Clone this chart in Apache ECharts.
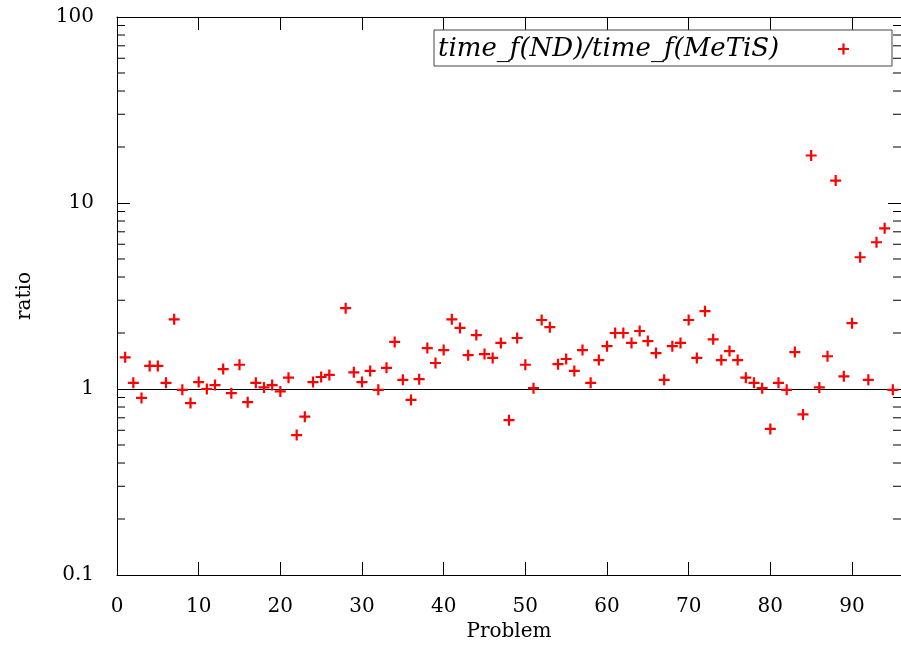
<!DOCTYPE html>
<html>
<head>
<meta charset="utf-8">
<script src="https://cdn.jsdelivr.net/npm/echarts@6/dist/echarts.min.js"></script>
<style>
html,body{margin:0;padding:0;background:#fff;}
#chart{width:901px;height:650px;}
</style>
</head>
<body>
<div id="chart"></div>
<script>
// Data
var problems = [1,2,3,4,5,6,7,8,9,10,11,12,13,14,15,16,17,18,19,20,21,22,23,24,25,26,
  28,29,30,31,32,33,34,35,36,37,38,39,40,41,42,43,44,45,46,47,48,49,50,
  51,52,53,54,55,56,57,58,59,60,61,62,63,64,65,66,67,68,69,70,
  71,72,73,74,75,76,77,78,79,80,81,82,83,84,85,86,87,88,89,90,91,92,93,94,95];
var ratios = [1.48,1.08,0.895,1.33,1.33,1.08,2.37,0.99,0.84,1.09,1.0,1.05,1.28,0.95,1.35,0.85,1.08,1.02,1.05,0.97,1.15,0.565,0.71,1.09,1.16,1.19,
  2.72,1.23,1.09,1.25,0.99,1.30,1.79,1.12,0.873,1.13,1.66,1.38,1.62,2.37,2.13,1.52,1.95,1.54,1.47,1.77,0.68,1.88,1.35,
  1.01,2.35,2.15,1.36,1.45,1.25,1.62,1.08,1.43,1.70,2.0,2.0,1.77,2.05,1.81,1.56,1.12,1.70,1.77,2.35,
  1.47,2.62,1.85,1.43,1.60,1.43,1.15,1.08,1.01,0.61,1.08,0.99,1.58,0.73,18.0,1.02,1.50,13.2,1.17,2.26,5.11,1.12,6.15,7.31,0.99];
var seriesName = 'time_f(ND)/time_f(MeTiS)';
var xTickLabels = [0,10,20,30,40,50,60,70,80,90];
var yTickLabels = [0.1,1,10,100];
var minorTickValues = [0.2,0.3,0.4,0.5,0.6,0.7,0.8,0.9,2,3,4,5,6,7,8,9,20,30,40,50,60,70,80,90];
var referenceLine = 1;

var xMin = 0, xMax = 96, yMin = 0.1, yMax = 100;
var plusPath = 'path://M4,0H6V4H10V6H6V10H4V6H0V4H4Z';
var FONT = 'DejaVu Serif';

var chart = echarts.init(document.getElementById('chart'), null, {renderer: 'canvas'});
var pts = problems.map(function (p, i) { return [p, ratios[i]]; });

var option = {
  animation: false,
  backgroundColor: '#fff',
  grid: {left: 117, top: 17, width: 789, height: 558, containLabel: false},
  legend: {
    show: true,
    left: 434, top: 30,
    align: 'right',
    padding: [6, 43, 4, 4],
    borderColor: '#444', borderWidth: 1,
    itemWidth: 11, itemHeight: 11,
    formatter: function (name) { return '{t|' + name + '}'; },
    textStyle: {
      color: '#000',
      rich: {t: {fontFamily: FONT, fontStyle: 'italic', fontSize: 26, color: '#000', width: 395, height: 26, align: 'left'}}
    },
    data: [{name: seriesName, icon: plusPath, itemStyle: {color: '#ff0000', opacity: 1}}]
  },
  xAxis: [{
    type: 'value', min: xMin, max: xMax, interval: 10, position: 'bottom',
    name: 'Problem', nameLocation: 'middle', nameGap: 44,
    nameTextStyle: {fontFamily: FONT, fontSize: 20, color: '#000'},
    axisLine: {show: true, onZero: false, lineStyle: {color: '#000', width: 1}},
    axisTick: {show: true, inside: true, length: 13, lineStyle: {color: '#000'}},
    axisLabel: {show: true, margin: 22, fontFamily: FONT, fontSize: 20, color: '#000', showMaxLabel: false,
      formatter: function (v) { return xTickLabels.indexOf(v) >= 0 ? String(v) : ''; }},
    splitLine: {show: false}
  }, {
    type: 'value', min: xMin, max: xMax, interval: 10, position: 'top',
    axisLine: {show: true, onZero: false, lineStyle: {color: '#000', width: 1}},
    axisTick: {show: true, inside: true, length: 13, lineStyle: {color: '#000'}},
    axisLabel: {show: false},
    splitLine: {show: false}
  }],
  yAxis: [{
    type: 'log', logBase: 10, min: yMin, max: yMax, position: 'left',
    name: 'ratio', nameLocation: 'middle', nameGap: 82,
    nameTextStyle: {fontFamily: FONT, fontSize: 20, color: '#000'},
    axisLine: {show: true, onZero: false, lineStyle: {color: '#000', width: 1}},
    axisTick: {show: true, inside: true, length: 13, lineStyle: {color: '#000'}},
    axisLabel: {show: true, margin: 23, fontFamily: FONT, fontSize: 20, color: '#000',
      formatter: function (v) {
        for (var i = 0; i < yTickLabels.length; i++) {
          if (Math.abs(v - yTickLabels[i]) < 1e-9 * yTickLabels[i]) return String(yTickLabels[i]);
        }
        return '';
      }},
    splitLine: {show: false}
  }, {
    type: 'log', logBase: 10, min: yMin, max: yMax, position: 'right',
    axisLine: {show: true, onZero: false, lineStyle: {color: '#000', width: 1}},
    axisTick: {show: true, inside: true, length: 13, lineStyle: {color: '#000'}},
    axisLabel: {show: false},
    splitLine: {show: false}
  }],
  series: [{
    name: seriesName,
    type: 'scatter',
    xAxisIndex: 0, yAxisIndex: 0,
    data: pts,
    symbol: plusPath,
    symbolSize: 11,
    itemStyle: {color: '#ff0000', opacity: 1},
    silent: true,
    z: 5,
    markLine: {
      silent: true, symbol: 'none', animation: false,
      label: {show: false},
      lineStyle: {color: '#000', width: 1, type: 'solid', opacity: 1},
      data: [{yAxis: referenceLine}]
    }
  }, {
    name: 'minorTicks',
    type: 'custom',
    xAxisIndex: 0, yAxisIndex: 0,
    data: minorTickValues.map(function (v) { return [xMin, v]; }),
    silent: true,
    clip: false,
    renderItem: function (params, api) {
      var v = api.value(1);
      var cs = params.coordSys;
      var y = api.coord([xMin, v])[1];
      var style = {stroke: '#000', lineWidth: 1};
      return {
        type: 'group',
        children: [
          {type: 'line', shape: {x1: cs.x, y1: y, x2: cs.x + 8, y2: y}, style: style},
          {type: 'line', shape: {x1: cs.x + cs.width - 8, y1: y, x2: cs.x + cs.width, y2: y}, style: style}
        ]
      };
    }
  }]
};
chart.setOption(option);
</script>
</body>
</html>
